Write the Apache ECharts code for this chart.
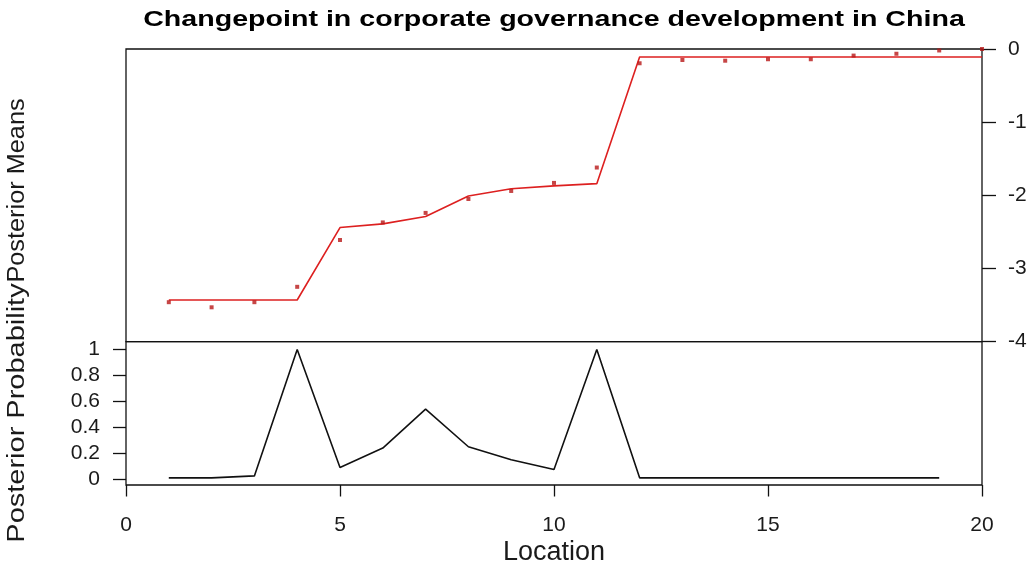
<!DOCTYPE html>
<html>
<head>
<meta charset="utf-8">
<script src="https://cdn.jsdelivr.net/npm/echarts@6/dist/echarts.min.js"></script>
<style>
html,body{margin:0;padding:0;background:#fff;}
#chart{width:1031px;height:567px;}
</style>
</head>
<body>
<div id="chart"></div>
<script>
// ---- data ----
var locations = [1,2,3,4,5,6,7,8,9,10,11,12,13,14,15,16,17,18,19,20];
var observed = [-3.46,-3.53,-3.46,-3.25,-2.61,-2.37,-2.24,-2.05,-1.94,-1.83,-1.62,-0.195,-0.15,-0.16,-0.14,-0.14,-0.09,-0.065,-0.02,0.0];
var posteriorMeans = [-3.43,-3.43,-3.43,-3.43,-2.44,-2.39,-2.29,-2.01,-1.91,-1.87,-1.84,-0.11,-0.11,-0.11,-0.11,-0.11,-0.11,-0.11,-0.11,-0.11];
var probLocations = [1,2,3,4,5,6,7,8,9,10,11,12,13,14,15,16,17,18,19];
var posteriorProb = [0.01,0.01,0.025,1.0,0.09,0.24,0.54,0.25,0.15,0.075,1.0,0.01,0.01,0.01,0.01,0.01,0.01,0.01,0.01];
var xTicks = [0,5,10,15,20];
var meanTicks = [-4,-3,-2,-1,0];
var probTicks = [0,0.2,0.4,0.6,0.8,1];
var titleText = 'Changepoint in corporate governance development in China';
var xName = 'Location';
var meanName = 'Posterior Means';
var probName = 'Posterior Probability';

function zip(a,b){ return a.map(function(v,i){ return [v,b[i]]; }); }

var FONT = '"Liberation Sans", Arial, sans-serif';
var TXT = '#1a1a1a';
var RED = '#dd2020';
var TICK = {color: '#111', width: 1.3};

var chart = echarts.init(document.getElementById('chart'), null, {renderer:'canvas'});
var option = {
  animation: false,
  backgroundColor: '#ffffff',
  grid: [
    {left: 126, right: 49, top: 49, height: 292.7, show: true, borderColor: '#111', borderWidth: 1.3, backgroundColor: 'transparent'},
    {left: 126, right: 49, top: 341.7, height: 143.8, show: true, borderColor: '#111', borderWidth: 1.3, backgroundColor: 'transparent'}
  ],
  xAxis: [
    {type: 'value', gridIndex: 0, min: 0, max: 20, interval: 5, position: 'bottom',
     axisLine: {show: false, onZero: false}, axisTick: {show: false}, axisLabel: {show: false}, splitLine: {show: false}},
    {type: 'value', gridIndex: 1, min: 0, max: 20, interval: 5, position: 'bottom',
     axisLine: {show: false, onZero: false},
     axisTick: {show: true, inside: false, length: 11.5, customValues: xTicks, lineStyle: TICK},
     axisLabel: {margin: 30, fontFamily: FONT, fontSize: 21, color: TXT, customValues: xTicks},
     splitLine: {show: false},
     name: xName, nameLocation: 'middle', nameGap: 54,
     nameTextStyle: {fontFamily: FONT, fontSize: 27, color: TXT}}
  ],
  yAxis: [
    {type: 'value', gridIndex: 0, position: 'right', min: -4, max: 0, interval: 1,
     axisLine: {show: false, onZero: false},
     axisTick: {show: true, inside: false, length: 14, customValues: meanTicks, lineStyle: TICK},
     axisLabel: {margin: 26, fontFamily: FONT, fontSize: 21, color: TXT, customValues: meanTicks, padding: [6,0,0,0]},
     splitLine: {show: false}},
    {type: 'value', gridIndex: 1, position: 'left', min: -0.045, max: 1.06,
     axisLine: {show: false, onZero: false},
     axisTick: {show: true, inside: false, length: 13, customValues: probTicks, lineStyle: TICK},
     axisLabel: {margin: 26, fontFamily: FONT, fontSize: 21, color: TXT, customValues: probTicks, padding: [4,0,0,0],
       formatter: function(v){ return String(Math.round(v*10)/10); }},
     splitLine: {show: false}}
  ],
  graphic: [
    {type: 'text', x: 554, y: 20, scaleX: 1.30,
     style: {text: titleText, fontFamily: FONT, fontWeight: 'bold', fontSize: 22, fill: '#000', textAlign: 'center', textVerticalAlign: 'middle'}},
    {type: 'text', x: 18, y: 190.5, rotation: Math.PI/2, scaleX: 1.10,
     style: {text: meanName, fontFamily: FONT, fontSize: 23, fill: TXT, textAlign: 'center', textVerticalAlign: 'middle'}},
    {type: 'text', x: 18, y: 413, rotation: Math.PI/2, scaleX: 1.26,
     style: {text: probName, fontFamily: FONT, fontSize: 23, fill: TXT, textAlign: 'center', textVerticalAlign: 'middle'}}
  ],
  series: [
    {type: 'line', xAxisIndex: 0, yAxisIndex: 0, data: zip(locations, posteriorMeans),
     showSymbol: false, symbol: 'none', lineStyle: {color: RED, width: 1.6}, z: 3},
    {type: 'scatter', xAxisIndex: 0, yAxisIndex: 0, data: zip(locations, observed),
     symbol: 'rect', symbolSize: 4, itemStyle: {color: '#b81818'}, z: 4},
    {type: 'line', xAxisIndex: 1, yAxisIndex: 1, data: zip(probLocations, posteriorProb),
     showSymbol: false, symbol: 'none', lineStyle: {color: '#111', width: 1.6}, z: 3}
  ]
};
chart.setOption(option);
</script>
</body>
</html>
